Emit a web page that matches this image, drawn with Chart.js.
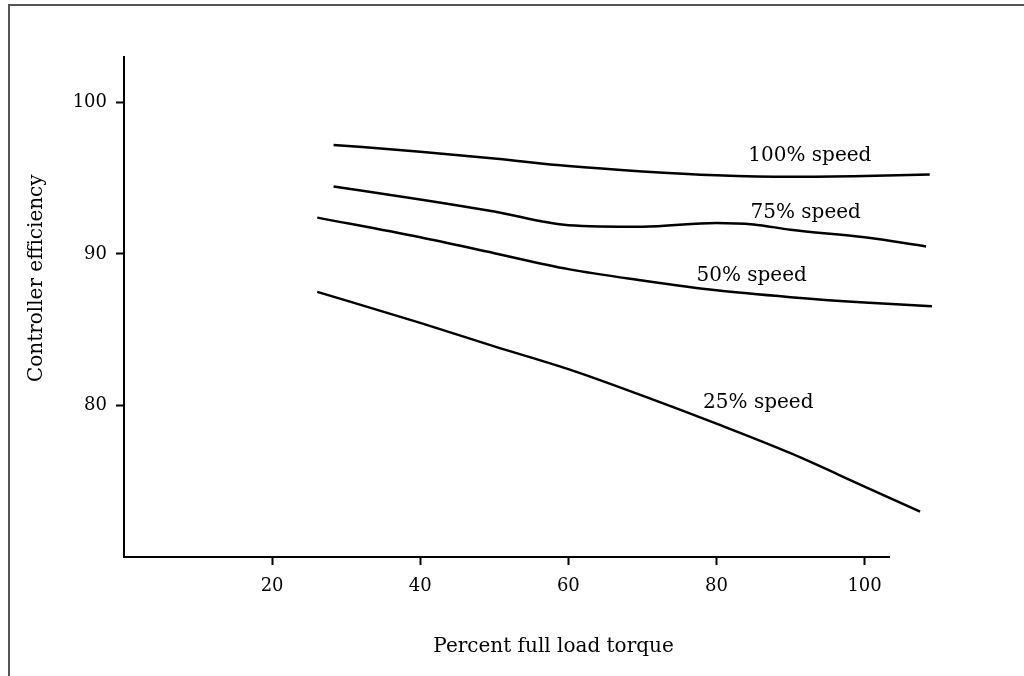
<!DOCTYPE html>
<html>
<head>
<meta charset="utf-8">
<title>Controller efficiency</title>
<script src="https://cdn.jsdelivr.net/npm/chart.js@4.4.0/dist/chart.umd.min.js"></script>
<style>
  html, body { margin: 0; padding: 0; background: #fff; }
  #wrap { position: relative; width: 1024px; height: 676px; }
</style>
</head>
<body>
<div id="wrap"><canvas id="effChart" width="1024" height="676"></canvas></div>
<script>
// axis ticks
var torqueTicks = [20, 40, 60, 80, 100];
var effTicks = [80, 90, 100];

// curves (x = percent full load torque, y = efficiency)
var torque100 = [28.3, 40, 50, 60, 70, 80, 90, 100, 108.8];
var eff100 = [97.2, 96.75, 96.3, 95.8, 95.45, 95.2, 95.1, 95.15, 95.25];

var torque75 = [28.3, 40, 50, 60, 70, 80, 85, 90, 100, 108.3];
var eff75 = [94.45, 93.6, 92.8, 91.9, 91.8, 92.05, 91.95, 91.6, 91.1, 90.5];

var torque50 = [26.1, 40, 50, 60, 70, 80, 90, 100, 109.1];
var eff50 = [92.4, 91.1, 90.05, 89.0, 88.25, 87.6, 87.15, 86.8, 86.55];

var torque25 = [26.1, 40, 50, 60, 70, 80, 90, 100, 107.5];
var eff25 = [87.5, 85.45, 83.9, 82.4, 80.65, 78.8, 76.85, 74.65, 73.0];

var curveNames = ['100% speed', '75% speed', '50% speed', '25% speed'];
var xTitle = 'Percent full load torque';
var yTitle = 'Controller efficiency';

// where the curve names sit (data units)
var nameAt = [[84.3, 96.45], [84.6, 92.75], [77.3, 88.55], [78.2, 80.2]];

var FONT = '"DejaVu Serif", "Liberation Serif", serif';

function toPoints(xs, ys) {
	var pts = [];
	xs.forEach(function(x, i) {
		pts.push({ x: x, y: ys[i] });
	});
	return pts;
}

function curve(xs, ys) {
	return {
		data: toPoints(xs, ys),
		borderColor: '#000',
		borderWidth: 2.5,
		pointRadius: 0,
		cubicInterpolationMode: 'monotone',
		clip: false
	};
}

var textPlugin = {
	id: 'textPlugin',
	afterDraw: function(chart) {
		var ctx = chart.ctx;
		var xs = chart.scales.x;
		var ys = chart.scales.y;
		ctx.save();

		// picture frame (top and left edges only)
		ctx.strokeStyle = '#555';
		ctx.lineWidth = 2;
		ctx.beginPath();
		ctx.moveTo(9, 676);
		ctx.lineTo(9, 5);
		ctx.lineTo(1024, 5);
		ctx.stroke();

		ctx.fillStyle = '#000';
		ctx.font = '20px ' + FONT;
		ctx.textBaseline = 'middle';
		ctx.textAlign = 'left';
		curveNames.forEach(function(name, i) {
			ctx.fillText(name, xs.getPixelForValue(nameAt[i][0]), ys.getPixelForValue(nameAt[i][1]));
		});

		ctx.textAlign = 'center';
		ctx.fillText(xTitle, xs.getPixelForValue(58), chart.chartArea.bottom + 90);

		ctx.translate(37, ys.getPixelForValue(88.4));
		ctx.rotate(-Math.PI / 2);
		ctx.fillText(yTitle, 0, 0);
		ctx.restore();
	}
};

var chart = new Chart(document.getElementById('effChart'), {
	type: 'line',
	data: {
		datasets: [
			curve(torque100, eff100),
			curve(torque75, eff75),
			curve(torque50, eff50),
			curve(torque25, eff25)
		]
	},
	options: {
		responsive: false,
		animation: false,
		layout: { padding: { top: 57, right: 135, bottom: 0, left: 0 } },
		plugins: {
			legend: { display: false },
			tooltip: { enabled: false }
		},
		scales: {
			x: {
				type: 'linear',
				min: 0,
				max: 103.3,
				afterBuildTicks: function(s) {
					s.ticks = torqueTicks.map(function(v) { return { value: v }; });
				},
				afterFit: function(s) { s.height = 119; },
				ticks: {
					color: '#000',
					font: { family: FONT, size: 18 },
					padding: 11,
					maxRotation: 0,
					autoSkip: false
				},
				grid: { drawOnChartArea: false, tickLength: 8, tickColor: '#000', tickWidth: 2 },
				border: { color: '#000', width: 2 }
			},
			y: {
				min: 70,
				max: 103,
				afterBuildTicks: function(s) {
					s.ticks = effTicks.map(function(v) { return { value: v }; });
				},
				afterFit: function(s) { s.width = 124; },
				ticks: {
					color: '#000',
					font: { family: FONT, size: 18 },
					padding: 9
				},
				grid: { drawOnChartArea: false, tickLength: 8, tickColor: '#000', tickWidth: 2 },
				border: { color: '#000', width: 2 }
			}
		}
	},
	plugins: [textPlugin]
});
</script>
</body>
</html>
